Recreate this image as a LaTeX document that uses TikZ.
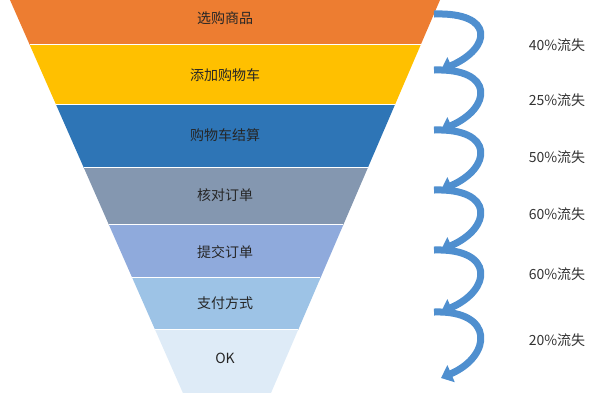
\documentclass[tikz,border=0pt]{standalone}
\usepackage{fontspec}
\setmainfont{Noto Sans CJK SC}
\usetikzlibrary{arrows.meta}
\definecolor{c1}{HTML}{ED7D31}
\definecolor{c2}{HTML}{FFC000}
\definecolor{c3}{HTML}{2E75B6}
\definecolor{c4}{HTML}{8497B0}
\definecolor{c5}{HTML}{8FAADC}
\definecolor{c6}{HTML}{9DC3E6}
\definecolor{c7}{HTML}{DEEBF7}
\definecolor{arr}{HTML}{4F8FCF}
\tikzset{lab/.style={font=\fontsize{14}{14}\selectfont,text=black!85},
 pct/.style={font=\fontsize{14}{14}\selectfont,text=black!80},
 swirl/.style={draw=arr,line width=7pt,-{Triangle[length=11pt,width=18pt]}}}
\begin{document}
\begin{tikzpicture}[x=1pt,y=-1pt]
\useasboundingbox (0,0) rectangle (600,400);
\foreach \a/\b/\c in {0/45/c1,45/105/c2,105/168/c3,168/225/c4,225/278/c5,278/330/c6,330/394/c7}{
  \fill[\c] ({10+0.44*\a},\a) -- ({440-0.43*\a},\a) -- ({440-0.43*\b},\b) -- ({10+0.44*\b},\b) -- cycle;
  \draw[white,line width=1.5pt] ({10+0.44*\b},\b) -- ({440-0.43*\b},\b);
}
\node[lab] (n1) at (225,18) {选购商品};
\node[lab] (n2) at (225,75) {添加购物车};
\node[lab] (n3) at (225,135) {购物车结算};
\node[lab] (n4) at (225,195) {核对订单};
\node[lab] (n5) at (225,252) {提交订单};
\node[lab] (n6) at (225,303) {支付方式};
\node[lab] (n7) at (225,358) {OK};
\foreach \a/\b in {14/70,70/130,130/190,190/250,250/312,312/378}{
  \draw[swirl] (434,\a) .. controls ({495},{\a-2}) and ({492},{\b-22}) .. (441,\b);
}
\node[pct] (p1) at (557,45) {40\%流失};
\node[pct] (p2) at (557,100) {25\%流失};
\node[pct] (p3) at (557,157) {50\%流失};
\node[pct] (p4) at (557,214) {60\%流失};
\node[pct] (p5) at (557,274) {60\%流失};
\node[pct] (p6) at (557,340) {20\%流失};
\end{tikzpicture}
\end{document}
